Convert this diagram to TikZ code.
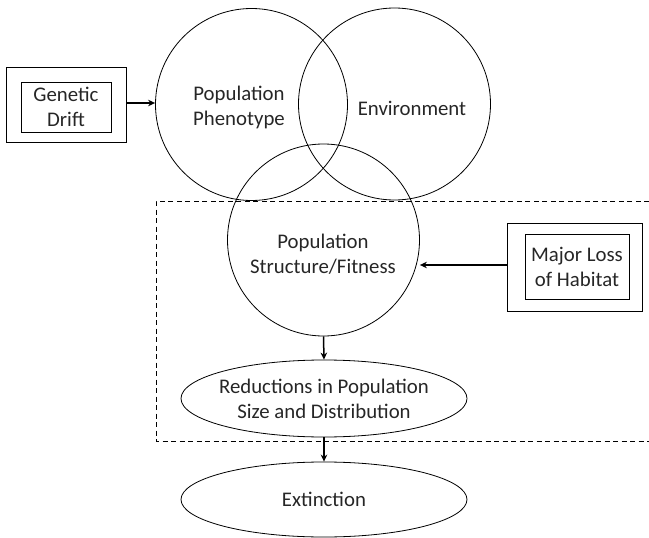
\documentclass[tikz,border=0pt]{standalone}
\usepackage{fontspec}
\setmainfont{Carlito}
\usetikzlibrary{shapes,arrows,arrows.meta,positioning}

\tikzset{
  bigcircle/.style={circle, draw, line width=0.8pt, inner sep=0pt, minimum size=192pt},
  outerbox/.style={rectangle, draw, line width=0.9pt, inner sep=0pt},
  innerbox/.style={rectangle, draw, line width=0.9pt, inner sep=0pt, align=center},
  oval/.style={ellipse, draw, line width=0.8pt, inner sep=-10pt, minimum width=286pt, align=center},
  link/.style={line width=1.5pt, -{Stealth[length=7pt,width=6.5pt]}},
  txt/.style={draw=none, align=center, text=black!85}
}

\begin{document}
\begin{tikzpicture}[x=1pt, y=-1pt, font=\fontsize{20.8}{25}\selectfont]

 \useasboundingbox (0,0) rectangle (649,538);

 % circles
 \node[bigcircle] (pheno) at (251.5,104.5) {};
 \node[bigcircle] (env)   at (394.5,104.0) {};
 \node[bigcircle] (struct) at (323.5,240.0) {};

 \node[txt] at (239,107) {Population\\Phenotype};
 \node[txt] at (412,108) {Environment};
 \node[txt] at (323,254) {Population\\Structure/Fitness};

 % ellipses
 \node[oval, minimum height=77pt, text=black!85] (reduce) at (324,398.5) {Reductions in Population\\Size and Distribution};
 \node[oval, minimum height=75pt, text=black!85] (extinct) at (324,499.5) {Extinction};

 % genetic drift
 \node[outerbox, minimum width=120pt, minimum height=75pt] (driftout) at (66,104.5) {};
 \node[innerbox, minimum width=90pt, minimum height=50pt, text=black!85] (drift) at (66,107) {Genetic\\Drift};

 % habitat
 \node[outerbox, minimum width=135pt, minimum height=88pt] (habout) at (574.5,267) {};
 \node[innerbox, minimum width=104pt, minimum height=65pt, text=black!85] (habitat) at (577,266.5) {Major Loss\\of Habitat};

 % dashed boundary
 \draw[line width=0.8pt, dash pattern=on 5pt off 3.5pt] (649,201) -- (156,201) -- (156,441) -- (649,441);

 % arrows
 \coordinate (y1) at (0,103);
 \coordinate (y2) at (0,265);
 \draw[link] (driftout.east |- y1) -- (pheno.west |- y1);
 \draw[link] (habout.west |- y2) -- (struct.east |- y2);
 \draw[link] (struct.south) -- (reduce.north);
 \draw[link] (reduce.south) -- (extinct.north);

\end{tikzpicture}
\end{document}
